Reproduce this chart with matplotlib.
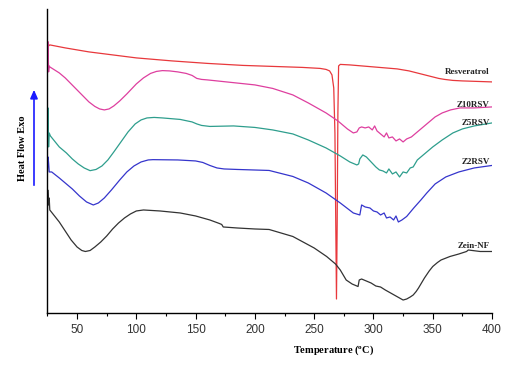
import matplotlib
matplotlib.use("Agg")
import matplotlib.pyplot as plt
from matplotlib.ticker import MultipleLocator

# DSC traces, heat flow in arbitrary units
res_t = [25, 25.5, 26, 27, 40, 60, 80, 100, 130, 160, 190, 215, 240, 255, 260, 263,
         265, 266.5, 267.5, 268.2, 268.8, 269.4, 270, 270.6, 272, 280, 300, 320, 325,
         330, 335, 340, 345, 350, 355, 360, 367, 375, 400]
res_h = [267, 271, 267, 268, 265, 261, 258, 255, 252, 249.5, 247.5, 246.5, 245.5, 244.5,
         243.5, 242, 238, 225, 180, 90, 14, 90, 200, 247, 248.5, 248, 246, 244, 243,
         242, 240.5, 239, 237.5, 236, 234.5, 233.5, 232.5, 232, 231]

z10_t = [25, 25.5, 26, 26.5, 27, 35, 40, 45, 50, 55, 60, 65, 69, 73, 77, 81, 86, 92, 100,
         106, 112, 117, 122, 128, 135, 142, 147, 151, 155, 160, 180, 200, 215, 232, 245,
         260, 270, 278, 283, 286, 288, 290, 293, 296, 299, 301, 303, 306, 309, 311, 313,
         316, 319, 322, 325, 328, 332, 336, 340, 346, 352, 358, 365, 373, 385, 400]
z10_h = [246, 271, 241, 247, 246, 240, 235, 229, 223, 217, 211, 206.5, 204, 203, 204, 207,
         212, 219, 229, 235, 239.5, 241.5, 242.3, 242, 241, 239.5, 237.5, 234.5, 233.5,
         233, 230.5, 228, 224.5, 218, 210, 200, 192, 184, 180, 181, 185, 186, 185, 186,
         183, 187, 182, 179, 176, 180, 175, 176, 172, 174, 171, 174, 176, 180, 184, 190,
         196, 200, 203, 205, 205, 206]

z5_t = [25, 25.5, 26, 26.5, 27.5, 35, 41, 46, 51, 56, 61, 66, 71, 76, 81, 87, 93, 99, 104,
        109, 115, 122, 137, 147, 151, 155, 162, 182, 200, 215, 232, 245, 260, 272, 280,
        286, 287.5, 288.5, 291, 294, 298, 302, 305, 308, 311, 313, 316, 319, 322, 325,
        328, 331, 333.5, 337, 342, 350, 358, 367, 375, 385, 400]
z5_h = [178, 205, 166, 180, 177, 166, 160, 154, 149, 145, 142.3, 143.5, 147, 153, 161, 171,
        181, 189, 193, 195, 195.5, 195, 193.5, 191, 189, 187.5, 186.5, 187, 185.5, 183,
        179, 173, 165, 157, 151, 148, 149, 154, 158, 156, 151, 146, 143, 142, 140, 144,
        139, 141, 136, 141, 140, 145, 146, 153, 158, 166, 173, 180, 184, 187, 190]

z2_t = [25, 25.5, 26, 26.5, 28.6, 35, 40, 46, 52, 58, 63.7, 68, 73, 79, 86, 92, 98, 104,
        110, 114, 135, 150, 156, 162, 168, 174, 185, 212, 232, 245, 260, 272, 283, 288.5,
        290, 293, 297, 300, 303, 306, 309, 311, 314, 317, 319, 321, 324, 328, 334, 340,
        345, 352, 361, 372, 385, 400]
z2_h = [141, 156, 150, 141, 141, 135, 130, 124, 117, 111, 108, 110, 115, 123, 133, 141, 147,
        151, 153, 153.3, 153, 152, 150.5, 147.5, 145, 144, 143.5, 142.5, 136.5, 130, 120,
        110, 100, 98, 108, 106, 105, 102, 101, 98, 100, 95, 96, 93, 97, 91, 93, 96.5, 105,
        113, 120, 129, 136, 141, 145, 147.5]

zein_t = [25, 25.3, 26, 26.5, 27, 31, 35, 40, 45, 50, 54, 57, 61, 65, 70, 75, 80, 85, 90,
          95, 100, 106, 120, 137, 150, 162, 170, 172, 173.3, 185, 200, 212, 232, 250,
          260.5, 268, 272, 277, 282, 287, 288, 290, 294, 298, 302, 306, 310, 313, 316, 319,
          322, 325, 328, 331, 333.5, 336, 338, 343, 347, 350, 354, 357, 364.5, 372, 378.5,
          380, 390, 400]
zein_h = [101, 123, 108, 115, 103, 97, 91, 82, 73, 66, 62.5, 61.5, 62.5, 66, 71, 77, 84, 90,
          95, 99, 102, 103, 102, 100, 97, 93, 89.5, 88.5, 86, 85, 84, 83.5, 76.5, 65, 56.5,
          49, 43, 33, 29, 26.5, 33, 34, 32, 30, 27, 26, 23, 21, 19, 17, 15, 13, 14, 16, 18,
          21.5, 25, 35, 42, 46.5, 50.5, 53, 56.5, 59, 61.5, 63, 61.5, 61.5]

names = ["Resveratrol", "Z10RSV", "Z5RSV", "Z2RSV", "Zein-NF"]
colors = ["#e8383c", "#de3f9f", "#2e9e8d", "#3535cc", "#333333"]
label_h = [241, 208, 190, 151, 67]

fig = plt.figure(figsize=(5.31, 3.70), dpi=100)
ax = fig.add_axes([0.0893, 0.154, 0.8373, 0.822])

series = [(res_t, res_h), (z10_t, z10_h), (z5_t, z5_h), (z2_t, z2_h), (zein_t, zein_h)]
for (t, h), c in zip(series, colors):
    ax.plot(t, h, color=c, lw=0.9)

for name, lh in zip(names, label_h):
    ax.text(398, lh, name, ha="right", va="center", fontsize=6.5,
            fontweight="bold", family="Liberation Serif", color="#222222")

ax.set_xlim(25, 400)
ax.set_ylim(0, 304)
ax.xaxis.set_major_locator(MultipleLocator(50))
ax.xaxis.set_minor_locator(MultipleLocator(25))
ax.tick_params(axis="x", which="major", length=4, width=0.8, pad=4,
               labelsize=8.5, labelcolor="#333333")
ax.tick_params(axis="x", which="minor", length=2.5, width=0.8)
for lab in ax.get_xticklabels():
    lab.set_family("Liberation Sans")
ax.set_yticks([])
ax.spines["top"].set_visible(False)
ax.spines["right"].set_visible(False)
ax.spines["left"].set_linewidth(1.0)
ax.spines["bottom"].set_linewidth(1.0)

fig.text(334 / 531, 1 - 350 / 370, "Temperature ($\\mathregular{^{o}}$C)", ha="center",
         va="center", fontsize=7.5, fontweight="bold", family="Liberation Serif")
fig.text(22.7 / 531, 1 - 148 / 370, "Heat Flow Exo", rotation=90, ha="center",
         va="center", fontsize=7.5, fontweight="bold", family="Liberation Serif")
fig.add_artist(matplotlib.patches.FancyArrowPatch(
    (34 / 531, 1 - 188 / 370), (34 / 531, 1 - 87 / 370), transform=fig.transFigure,
    arrowstyle="-|>,head_length=5,head_width=2.2", color="#1a1aff", lw=1.2))

fig.savefig("out.png", dpi=100)
